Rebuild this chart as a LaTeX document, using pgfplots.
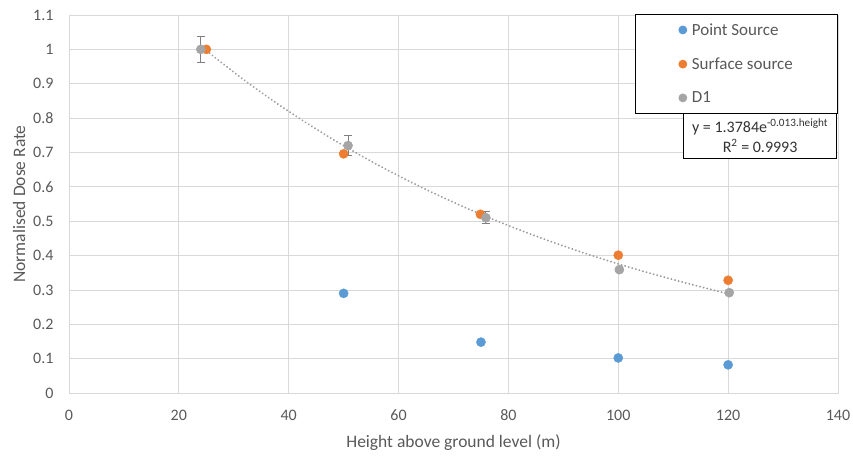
\documentclass[border=0pt]{standalone}
\usepackage{fontspec}
\setmainfont{Carlito}
\usepackage{pgfplots}
\pgfplotsset{compat=1.18}
\usetikzlibrary{calc}

\definecolor{ptblue}{HTML}{5B9BD5}
\definecolor{surforange}{HTML}{ED7D31}
\definecolor{dgray}{HTML}{A5A5A5}
\definecolor{trendgray}{HTML}{9A9A9A}
\definecolor{gridgray}{HTML}{D9D9D9}
\definecolor{txtgray}{HTML}{595959}
\definecolor{errgray}{HTML}{7F7F7F}

\begin{document}
\begin{tikzpicture}
\begin{axis}[
  name=ax,
  scale only axis,
  width=769bp, height=378bp,
  xmin=0, xmax=140, ymin=0, ymax=1.1,
  xtick={0,20,40,60,80,100,120,140},
  ytick={0,0.1,0.2,0.3,0.4,0.5,0.6,0.7,0.8,0.9,1,1.1},
  yticklabels={0,0.1,0.2,0.3,0.4,0.5,0.6,0.7,0.8,0.9,1,1.1},
  grid=major,
  major grid style={draw=gridgray, line width=0.75bp},
  axis line style={draw=gridgray, line width=0.75bp},
  tick style={draw=none},
  /pgf/number format/assume math mode=true,
  tick label style={font=\fontsize{16bp}{19bp}\selectfont, text=txtgray},
  xticklabel style={yshift=-13.5bp},
  yticklabel style={xshift=-12bp},
  label style={font=\fontsize{17.5bp}{21bp}\selectfont, text=txtgray},
  xlabel={Height above ground level (m)},
  ylabel={Normalised Dose Rate},
  xlabel style={at={(axis description cs:0.5,-0.1310)}, anchor=center},
  ylabel style={at={(axis description cs:-0.0650,0.5)}, anchor=center},
  legend cell align=left,
  legend style={
    at={(axis description cs:0.736,1.003)}, anchor=north west,
    draw=black, line width=0.75bp, fill=white,
    font=\fontsize{17bp}{20bp}\selectfont, text=txtgray,
    inner xsep=0bp, inner ysep=0bp,
    minimum width=202bp, minimum height=99bp,
    row sep=17bp, column sep=4bp,
    nodes={inner xsep=1bp, inner ysep=2bp, minimum width=0pt, minimum height=0pt},
  },
  legend image code/.code={\draw[mark size=4bp] plot coordinates {(0bp,0bp)};},
  clip=false,
]

% exponential trend line of D1: y = 1.3784 e^{-0.013 h}
\addplot[forget plot, trendgray, line width=2bp, line cap=round,
  dash pattern=on 0.1bp off 3.6bp, smooth] coordinates {
  (24,1.0090) (32,0.9093) (40,0.8195) (48,0.7385) (56,0.6656)
  (64,0.5999) (72,0.5406) (80,0.4872) (88,0.4391) (96,0.3957)
  (104,0.3566) (112,0.3214) (120.3,0.2873)
};

\addplot[only marks, mark=*, mark size=4.6bp, color=ptblue, mark options={draw=ptblue, fill=ptblue}]
  coordinates {(50,0.290) (75,0.148) (100,0.102) (120,0.082)};
\addlegendentry{Point Source}

\addplot[only marks, mark=*, mark size=4.6bp, color=surforange, mark options={draw=surforange, fill=surforange}]
  coordinates {(25,1.000) (50,0.696) (74.9,0.520) (100,0.401) (120,0.328)};
\addlegendentry{Surface source}

\addplot[only marks, mark=*, mark size=4.6bp, color=dgray, mark options={draw=dgray, fill=dgray},
  error bars/.cd, y dir=both, y explicit,
  error bar style={draw=errgray, line width=0.9bp},
  error mark options={rotate=90, mark size=4bp, draw=errgray, line width=0.9bp}]
  coordinates {
    (24,1.000) +- (0,0.038)
    (50.8,0.720) +- (0,0.030)
    (75.9,0.510) +- (0,0.017)
    (100.2,0.359) +- (0,0.004)
    (120.2,0.292) +- (0,0.004)
  };
\addlegendentry{D1}

\node[draw=black, line width=0.75bp, fill=white, anchor=north east,
  align=center, minimum width=153bp, minimum height=45bp, inner sep=2bp,
  font=\fontsize{16bp}{20bp}\selectfont, text=black!80]
  at (axis description cs:0.9987,0.741)
  {y = 1.3784e\textsuperscript{-0.013.height}\\R\textsuperscript{2} = 0.9993};
\end{axis}
\pgfresetboundingbox
\path[use as bounding box] ($(ax.south west)+(-69bp,-63bp)$) rectangle ($(ax.north east)+(15bp,15bp)$);
\end{tikzpicture}
\end{document}
